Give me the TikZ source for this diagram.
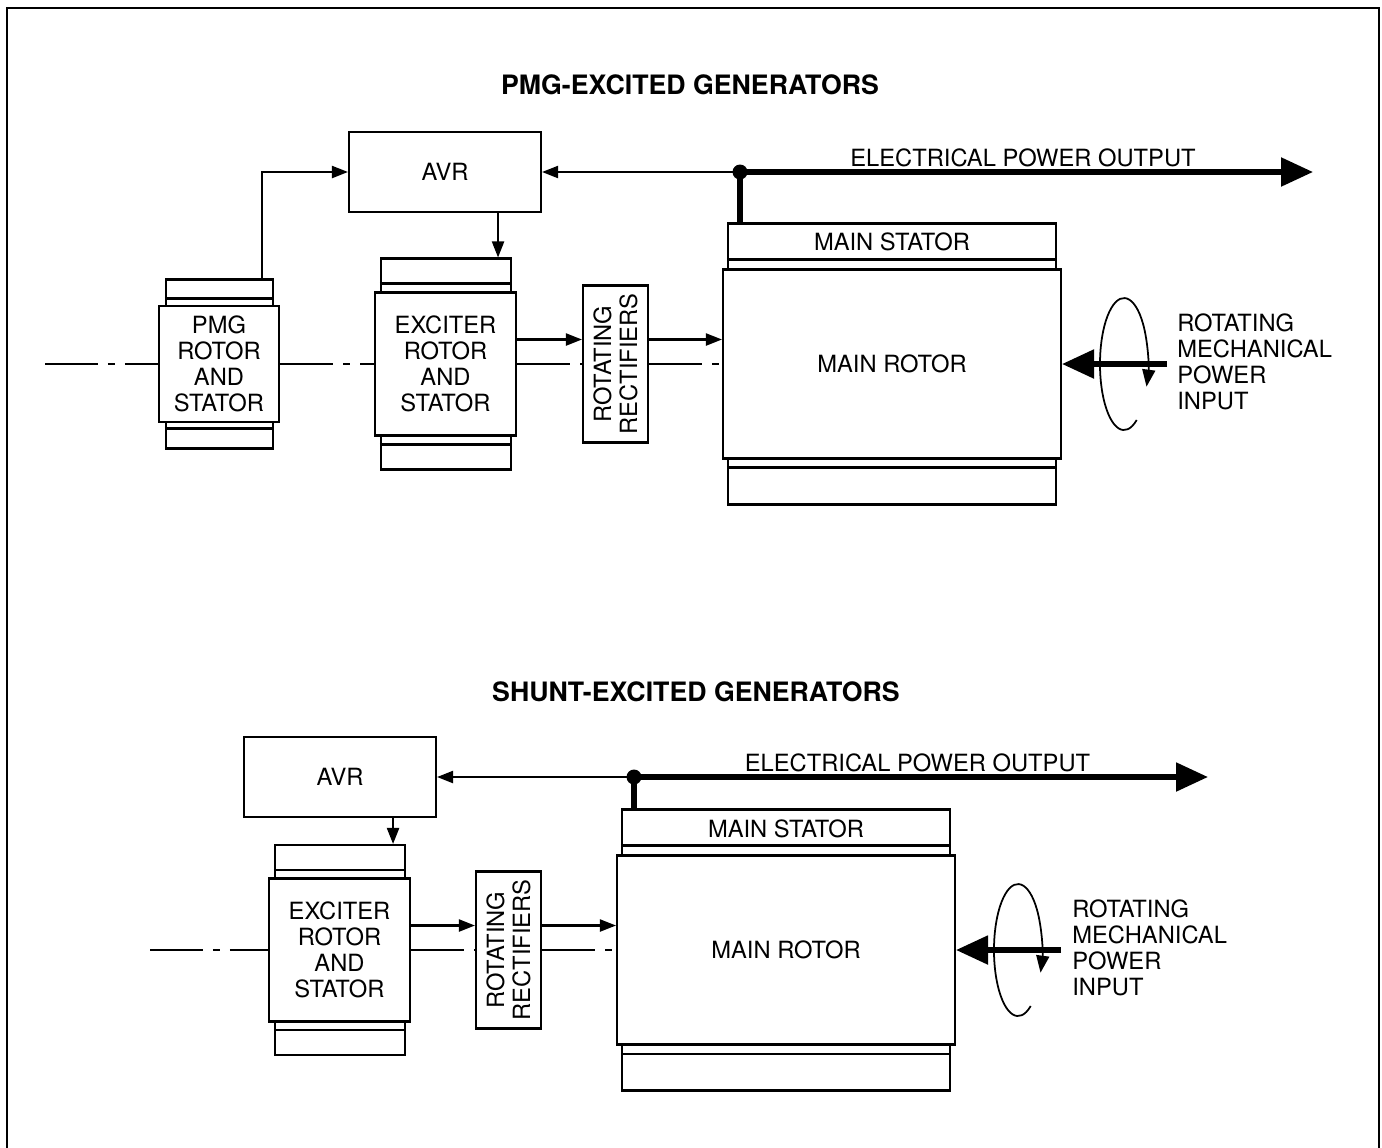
\documentclass[tikz,border=0pt]{standalone}
\usepackage{fontspec}
\setmainfont{TeX Gyre Heros}
\usetikzlibrary{arrows.meta}
\usetikzlibrary{positioning}
\tikzstyle{lbl} = [font=\fontsize{13.5}{14.8}\selectfont, align=center, inner sep=0pt]
\tikzstyle{heading} = [font=\fontsize{15.2}{17}\selectfont\bfseries]
\tikzstyle{box} = [rectangle, draw=black, line width=1.2pt, fill=white, lbl]
\tikzstyle{strip} = [rectangle, draw=black, line width=1.2pt, inner sep=0pt]
\tikzstyle{link} = [line width=1.2pt, -{Triangle[length=0.32cm,width=0.24cm]}]
\tikzstyle{power} = [line width=3pt, -{Triangle[length=0.64cm,width=0.56cm]}]
\tikzstyle{shaft} = [line width=1.2pt, dash pattern=on 1.06cm off 0.2cm on 0.14cm off 0.2cm]
\tikzstyle{spin} = [line width=1pt, -{Triangle[length=0.34cm,width=0.26cm]}]
\tikzstyle{joint} = [circle, fill=black, inner sep=0pt, minimum size=0.3cm]

\begin{document}
\begin{tikzpicture}[x=0.02cm, y=-0.02cm]
\useasboundingbox (0,0) rectangle (1382,1147);
\draw[line width=1.4pt] (7,1160) -- (7,8) -- (1379,8) -- (1379,1160);

% PMG-excited
\node (headA) [heading] at (690,85) {PMG-EXCITED GENERATORS};

\node (pmgS) [strip, minimum width=2.14cm, minimum height=3.38cm] at (219.5,364) {};
\draw[line width=1.2pt] ([yshift=-0.4cm]pmgS.north west) -- ([yshift=-0.4cm]pmgS.north east)
  ([yshift=0.42cm]pmgS.south west) -- ([yshift=0.42cm]pmgS.south east);
\node (pmgR) [box, minimum width=2.4cm, minimum height=2.32cm] at (219,364) {PMG\\ROTOR\\AND\\STATOR};

\node (excSA) [strip, minimum width=2.6cm, minimum height=4.22cm] at (446,364) {};
\draw[line width=1.2pt] ([yshift=-0.52cm]excSA.north west) -- ([yshift=-0.52cm]excSA.north east)
  ([yshift=0.52cm]excSA.south west) -- ([yshift=0.52cm]excSA.south east);
\node (excRA) [box, minimum width=2.82cm, minimum height=2.86cm] at (445.5,364) {EXCITER\\ROTOR\\AND\\STATOR};

\node (rectA) [box, minimum width=1.3cm, minimum height=3.14cm] at (615.5,364) {};
\node (rectAtxt) [lbl, rotate=90] at (rectA) {ROTATING\\RECTIFIERS};

\node (mainSA) [strip, minimum width=6.56cm, minimum height=5.62cm] at (892,364) {};
\draw[line width=1.2pt] ([yshift=-0.74cm]mainSA.north west) -- ([yshift=-0.74cm]mainSA.north east)
  ([yshift=0.76cm]mainSA.south west) -- ([yshift=0.76cm]mainSA.south east);
\node (mainRA) [box, minimum width=6.76cm, minimum height=3.78cm] at (892,364) {MAIN ROTOR};
\node (statA) [lbl] at (892,241.5) {MAIN STATOR};

\node (avrA) [box, minimum width=3.84cm, minimum height=1.6cm] at (445,172) {AVR};
\node (jA) [joint] at (740,172) {};
\coordinate (outA) at (1313,172);
\node (elecA) [lbl] at (1023,158) {ELECTRICAL POWER OUTPUT};
\draw[power] (jA.center) -- (outA);
\draw[line width=3pt] (jA.center) -- (jA |- mainSA.north);
\draw[link] (jA.center) -- (avrA.east);
\draw[link] ([xshift=-0.24cm]pmgS.north east) |- (avrA.west);
\coordinate (excInA) at ([xshift=-0.28cm]excSA.north east);
\draw[link] (excInA |- avrA.south) -- (excInA);
\draw[link] ([yshift=0.49cm]excRA.east) -- ([yshift=0.49cm]rectA.west);
\draw[link] ([yshift=0.49cm]rectA.east) -- ([yshift=0.49cm]mainRA.west);

\coordinate (shaftA) at (45,364);
\draw[shaft] (shaftA) -- (pmgR.west) (pmgR.east) -- (excRA.west)
  (excRA.east) -- (rectA.west) (rectA.east) -- (mainRA.west);

\coordinate (mechA) at (1167,364);
\draw[power] (mechA) -- (mechA -| mainRA.east);
\draw[spin] (1136.7,420) arc[start angle=58, end angle=380, x radius=24, y radius=66];
\node (mechAtxt) [lbl, anchor=west, align=left] at (1177,362) {ROTATING\\MECHANICAL\\POWER\\INPUT};

% shunt-excited
\node (headB) [heading] at (696,692) {SHUNT-EXCITED GENERATORS};

\node (excSB) [strip, minimum width=2.6cm, minimum height=4.2cm] at (340,950) {};
\draw[line width=1.2pt] ([yshift=-0.52cm]excSB.north west) -- ([yshift=-0.52cm]excSB.north east)
  ([yshift=0.52cm]excSB.south west) -- ([yshift=0.52cm]excSB.south east);
\node (excRB) [box, minimum width=2.82cm, minimum height=2.86cm] at (339.5,950) {EXCITER\\ROTOR\\AND\\STATOR};

\node (rectB) [box, minimum width=1.3cm, minimum height=3.14cm] at (508.5,950) {};
\node (rectBtxt) [lbl, rotate=90] at (rectB) {ROTATING\\RECTIFIERS};

\node (mainSB) [strip, minimum width=6.56cm, minimum height=5.62cm] at (786,950) {};
\draw[line width=1.2pt] ([yshift=-0.74cm]mainSB.north west) -- ([yshift=-0.74cm]mainSB.north east)
  ([yshift=0.76cm]mainSB.south west) -- ([yshift=0.76cm]mainSB.south east);
\node (mainRB) [box, minimum width=6.76cm, minimum height=3.78cm] at (786,950) {MAIN ROTOR};
\node (statB) [lbl] at (786,828.5) {MAIN STATOR};

\node (avrB) [box, minimum width=3.84cm, minimum height=1.6cm] at (340,777) {AVR};
\node (jB) [joint] at (634,777) {};
\coordinate (outB) at (1208,777);
\node (elecB) [lbl] at (917.5,763) {ELECTRICAL POWER OUTPUT};
\draw[power] (jB.center) -- (outB);
\draw[line width=3pt] (jB.center) -- (jB |- mainSB.north);
\draw[link] (jB.center) -- (avrB.east);
\coordinate (excInB) at ([xshift=-0.26cm]excSB.north east);
\draw[link] (excInB |- avrB.south) -- (excInB);
\draw[link] ([yshift=0.49cm]excRB.east) -- ([yshift=0.49cm]rectB.west);
\draw[link] ([yshift=0.49cm]rectB.east) -- ([yshift=0.49cm]mainRB.west);

\coordinate (shaftB) at (150,950);
\draw[shaft] (shaftB) -- (excRB.west)
  (excRB.east) -- (rectB.west) (rectB.east) -- (mainRB.west);

\coordinate (mechB) at (1061,950);
\draw[power] (mechB) -- (mechB -| mainRB.east);
\draw[spin] (1030.7,1006) arc[start angle=58, end angle=380, x radius=24, y radius=66];
\node (mechBtxt) [lbl, anchor=west, align=left] at (1072,948) {ROTATING\\MECHANICAL\\POWER\\INPUT};
\end{tikzpicture}
\end{document}
